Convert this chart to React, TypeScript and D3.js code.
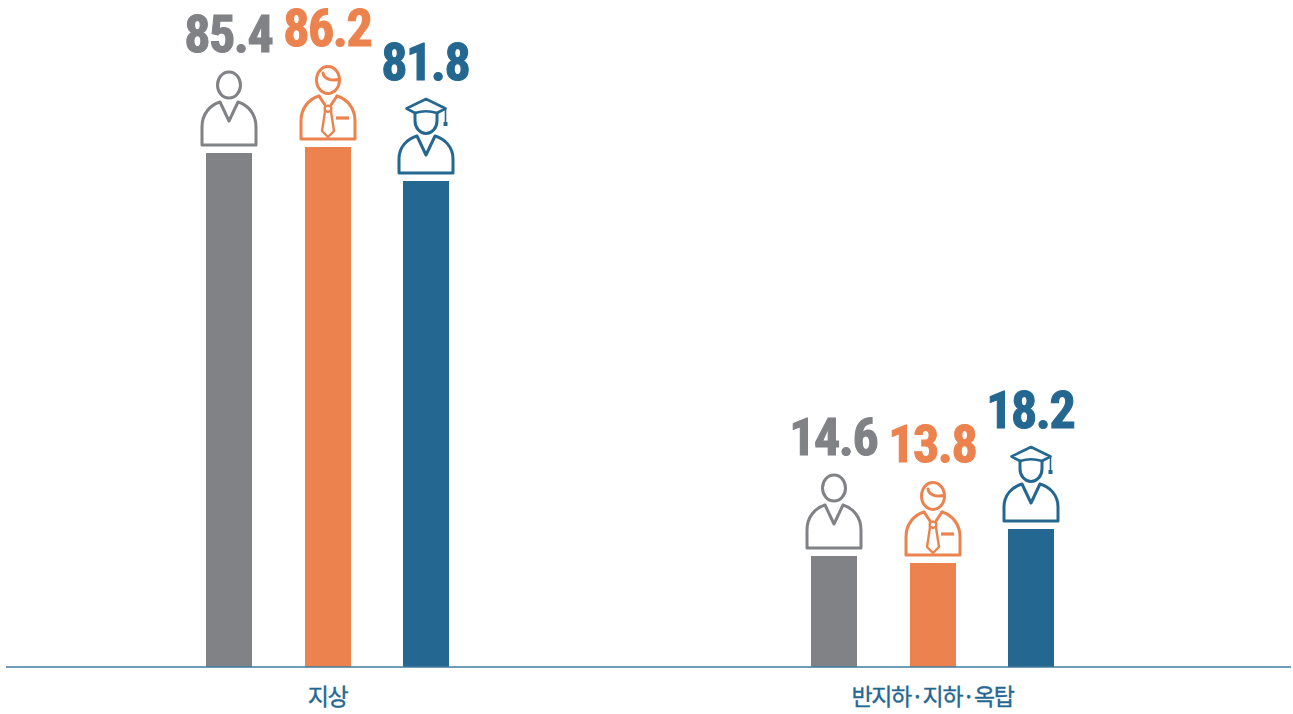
import React from "react";
import * as d3 from "d3";

const categories = ["지상", "반지하·지하·옥탑"];
const seriesNames = ["일반가구", "청년 직장인", "대학생"];
const groundValues = [85.4, 86.2, 81.8];
const basementValues = [14.6, 13.8, 18.2];
const valueLabels = [["85.4", "86.2", "81.8"], ["14.6", "13.8", "18.2"]];
const seriesColors = ["#808285", "#EC834F", "#246891"];
const scaleKnots = [0, 13.8, 18.2, 81.8, 86.2];

const W = 1293;
const H = 714;
const BASE = 667;

const groupX = d3.scalePoint<string>().domain(categories).range([206, 811]);
const innerX = d3.scaleBand<string>().domain(seriesNames).range([0, 243]).paddingInner(0.533).paddingOuter(0);
// The reference's bars use a broken (non-proportional) axis
const y = d3.scaleLinear().domain(scaleKnots).range([BASE, 563, 529, 181, 147]);

const SW = 3;

function Plain({ color }: { color: string }) {
  return (
    <g fill="none" stroke={color} strokeWidth={SW} strokeLinejoin="round" strokeLinecap="round">
      <ellipse cx={0} cy={-61} rx={11.5} ry={13} />
      <path d="M-9,-44 L0,-25 L9,-44 C19,-41 27,-32 27,-19 V-1 H-27 V-19 C-27,-32 -19,-41 -9,-44 Z" />
    </g>
  );
}

function Worker({ color }: { color: string }) {
  return (
    <g fill="none" stroke={color} strokeWidth={SW} strokeLinejoin="round" strokeLinecap="round">
      <ellipse cx={0} cy={-60} rx={11.5} ry={13.5} />
      <path d="M-5,-67 C-4,-61 3,-59 10.5,-60.5" />
      <path d="M-9,-44 L-3,-35 M9,-44 L3,-35" />
      <path d="M-9,-44 C-19,-41 -27,-32 -27,-19 V-1 H27 V-19 C27,-32 19,-41 9,-44" />
      <path d="M0,-34.5 L3.2,-33 L3.2,-29.5 L0,-28 L-3.2,-29.5 L-3.2,-33 Z" strokeWidth={2.4} />
      <path d="M-3,-28.5 L-6,-9 L0,-3 L6,-9 L3,-28.5" strokeWidth={2.4} />
      <path d="M8,-22 H21" strokeWidth={3.2} strokeLinecap="butt" />
    </g>
  );
}

function Graduate({ color }: { color: string }) {
  return (
    <g fill="none" stroke={color} strokeWidth={SW} strokeLinejoin="round" strokeLinecap="round">
      <path d="M0,-75 L-19.5,-65.5 L-11,-61 Q0,-64.5 11,-61 L19.5,-65.5 Z" strokeWidth={2.6} />
      <path d="M-11,-61 V-53 A11,12.5 0 0 0 11,-53 V-61" />
      <path d="M19.5,-65 V-52" strokeWidth={1.6} />
      <rect x={17.5} y={-52} width={4} height={4} fill={color} stroke="none" />
      <path d="M-9,-38 L0,-19 L9,-38 C19,-35 27,-27 27,-15 V-1 H-27 V-15 C-27,-27 -19,-35 -9,-38 Z" />
    </g>
  );
}

const icons = [Plain, Worker, Graduate];
const rows = [groundValues, basementValues];

export default function App() {
  return (
    <svg width={W} height={H} viewBox={`0 0 ${W} ${H}`} style={{ position: "absolute", left: 0, top: 0, display: "block", background: "#fff" }}>
      {categories.map((cat, gi) => (
        <g key={cat}>
          {rows[gi].map((v, si) => {
            const name = seriesNames[si];
            const x0 = Math.round(groupX(cat)! + innerX(name)! + 0.2);
            const bw = Math.round(innerX.bandwidth());
            const top = Math.floor(y(v));
            const cx = x0 + bw / 2;
            const Icon = icons[si];
            return (
              <g key={name}>
                <rect x={x0} y={top} width={bw} height={BASE - top} fill={seriesColors[si]} />
                <g transform={`translate(${cx},${top - 7})`}>
                  <Icon color={seriesColors[si]} />
                </g>
                <text
                  x={cx - 0.8}
                  y={top - 101}
                  textAnchor="middle"
                  fill={seriesColors[si]}
                  stroke={seriesColors[si]}
                  strokeWidth={1.1}
                  fontFamily="'Liberation Sans Narrow', 'Roboto Condensed', Roboto, sans-serif"
                  fontWeight={700}
                  fontSize={52}
                  letterSpacing={-1.5}
                  textLength={88}
                  lengthAdjust="spacingAndGlyphs"
                >
                  {valueLabels[gi][si]}
                </text>
              </g>
            );
          })}
          <text
            x={groupX(cat)! + 121.5}
            y={705}
            textAnchor="middle"
            fill="#246891"
            stroke="#246891"
            strokeWidth={0.35}
            fontFamily="'Noto Sans CJK KR', sans-serif"
            fontWeight={400}
            fontSize={23}
            letterSpacing={-1.3}
          >
            {cat}
          </text>
        </g>
      ))}
      <line x1={6} x2={1291} y1={BASE} y2={BASE} stroke="#3f7b9e" strokeWidth={1.5} />
    </svg>
  );
}
